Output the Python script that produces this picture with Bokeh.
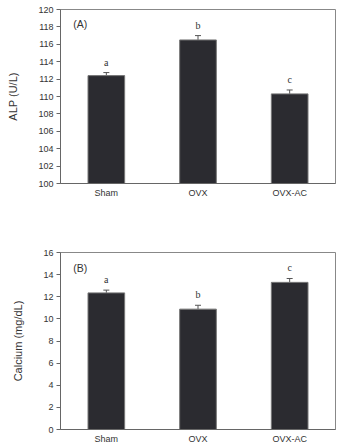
from bokeh.plotting import figure
from bokeh.models import ColumnDataSource, Whisker, Label, FactorRange, FixedTicker, TeeHead
from bokeh.layouts import column
from bokeh.embed import file_html
from bokeh.resources import INLINE

categories = ["Sham", "OVX", "OVX-AC"]
alp_values = [112.4, 116.5, 110.3]
alp_errors = [0.35, 0.5, 0.45]
alp_letters = ["a", "b", "c"]
ca_values = [12.35, 10.88, 13.3]
ca_errors = [0.25, 0.35, 0.35]
ca_letters = ["a", "b", "c"]

FONT = "Liberation Sans"
TXT = "#333333"


def panel(values, errors, letters, ylab, ystart, yend, ystep, tag, tag_y, height, top):
    src = ColumnDataSource(dict(
        cat=categories, val=values,
        upper=[v + e for v, e in zip(values, errors)],
        letter=letters,
    ))
    p = figure(x_range=FactorRange(factors=categories, range_padding=0),
               y_range=(ystart, yend), width=341, height=height,
               output_backend="svg", toolbar_location=None,
               min_border_left=60, min_border_right=6,
               min_border_top=top, min_border_bottom=17)
    p.vbar(x="cat", top="val", bottom=ystart, width=0.4, source=src,
           fill_color="#2b2b30", line_color="#777777", line_width=1)
    w = Whisker(base="cat", upper="upper", lower="val", source=src,
                upper_head=TeeHead(size=6, line_color="#555555", line_width=1),
                lower_head=None, line_color="#555555", line_width=1)
    p.add_layout(w)
    p.text(x="cat", y="upper", text="letter", source=src, y_offset=-5,
           text_align="center", text_baseline="bottom",
           text_font=FONT, text_font_size="10px", text_color=TXT)
    p.add_layout(Label(x=0.14, y=tag_y, text=tag, text_baseline="top",
                       text_font=FONT, text_font_size="10.5px", text_color=TXT))
    p.xgrid.visible = False
    p.ygrid.visible = False
    p.outline_line_color = "#888888"
    p.outline_line_width = 1
    p.yaxis.ticker = FixedTicker(ticks=list(range(ystart, yend + 1, ystep)))
    p.yaxis.axis_label = ylab
    p.yaxis.axis_label_text_font = FONT
    p.yaxis.axis_label_text_font_style = "normal"
    p.yaxis.axis_label_text_font_size = "11px"
    p.yaxis.axis_label_text_color = TXT
    p.yaxis.axis_label_standoff = 16
    for ax in (p.xaxis, p.yaxis):
        ax.major_label_text_font = FONT
        ax.major_label_text_font_size = "9px"
        ax.major_label_text_color = TXT
        ax.axis_line_color = "#666666"
        ax.major_tick_line_color = "#666666"
        ax.minor_tick_line_color = None
        ax.major_tick_in = 0
    p.yaxis.major_tick_out = 4
    p.yaxis.major_label_standoff = 3
    p.xaxis.major_tick_out = 0
    p.xaxis.major_label_standoff = 4
    return p


p1 = panel(alp_values, alp_errors, alp_letters, "ALP (U/L)", 100, 120, 2, "(A)", 119.0, 200, 9)
p2 = panel(ca_values, ca_errors, ca_letters, "Calcium (mg/dL)", 0, 16, 2, "(B)", 15.1, 246, 52)

p = column(p1, p2, spacing=0)
open("out.html", "w").write(file_html(p, INLINE))
